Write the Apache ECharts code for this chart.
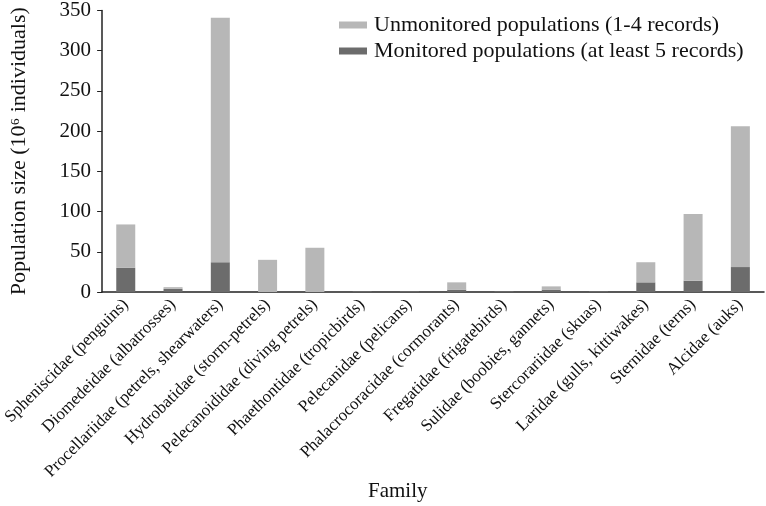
<!DOCTYPE html>
<html>
<head>
<meta charset="utf-8">
<script src="https://cdn.jsdelivr.net/npm/echarts@6/dist/echarts.min.js"></script>
<style>html,body{margin:0;padding:0;background:#fff}#c{width:766px;height:506px}</style>
</head>
<body>
<div id="c"></div>
<script>
var categories = [
  "Spheniscidae (penguins)",
  "Diomedeidae (albatrosses)",
  "Procellariidae (petrels, shearwaters)",
  "Hydrobatidae (storm-petrels)",
  "Pelecanoididae (diving petrels)",
  "Phaethontidae (tropicbirds)",
  "Pelecanidae (pelicans)",
  "Phalacrocoracidae (cormorants)",
  "Fregatidae (frigatebirds)",
  "Sulidae (boobies, gannets)",
  "Stercorariidae (skuas)",
  "Laridae (gulls, kittiwakes)",
  "Sternidae (terns)",
  "Alcidae (auks)"
];
var monitored   = [30, 4, 37, 0, 0, 1, 1, 3, 1, 3, 1, 12, 14, 31];
var unmonitored = [54, 2, 304, 40, 55, 0, 0, 9, 0, 4, 0, 25, 83, 175];
var yTicks = {min: 0, max: 350, interval: 50};

var FONT = "Liberation Serif";
var chart = echarts.init(document.getElementById('c'), null, {renderer: 'canvas'});
chart.setOption({
  animation: false,
  backgroundColor: '#ffffff',
  textStyle: {fontFamily: FONT, color: '#000'},
  grid: {left: 96, right: 2, top: 9, bottom: 214, containLabel: false},
  legend: {
    orient: 'vertical',
    left: 334, top: 9,
    itemWidth: 28, itemHeight: 7, itemGap: 4,
    data: ['Unmonitored populations (1-4 records)', 'Monitored populations (at least 5 records)'],
    textStyle: {fontFamily: FONT, fontSize: 22, color: '#111', padding: [0, 0, 0, 2]},
    icon: 'rect'
  },
  xAxis: {
    type: 'category',
    data: categories,
    axisLine: {lineStyle: {color: '#222', width: 1.5}},
    axisTick: {show: false},
    axisLabel: {rotate: 45, interval: 0, fontFamily: FONT, fontSize: 17, color: '#111', margin: 10}
  },
  yAxis: {
    type: 'value',
    min: yTicks.min, max: yTicks.max, interval: yTicks.interval,
    name: 'Population size (10\u2076 individuals)',
    nameLocation: 'middle', nameGap: 72, nameRotate: 90,
    nameTextStyle: {fontFamily: FONT, fontSize: 22, color: '#111'},
    splitLine: {show: false},
    axisLine: {show: true, lineStyle: {color: '#222', width: 1.5}},
    axisTick: {show: true, length: 5, lineStyle: {color: '#222'}},
    axisLabel: {fontFamily: FONT, fontSize: 21, color: '#111', margin: 11}
  },
  graphic: [{
    type: 'text', left: 368, top: 481,
    style: {text: 'Family', font: '21px "Liberation Serif"', fill: '#111'}
  }],
  series: [
    {name: 'Monitored populations (at least 5 records)', type: 'bar', stack: 'a', barWidth: 19,
     data: monitored, itemStyle: {color: '#6c6c6c'}},
    {name: 'Unmonitored populations (1-4 records)', type: 'bar', stack: 'a', barWidth: 19,
     data: unmonitored, itemStyle: {color: '#b7b7b7'}}
  ]
});
</script>
</body>
</html>
